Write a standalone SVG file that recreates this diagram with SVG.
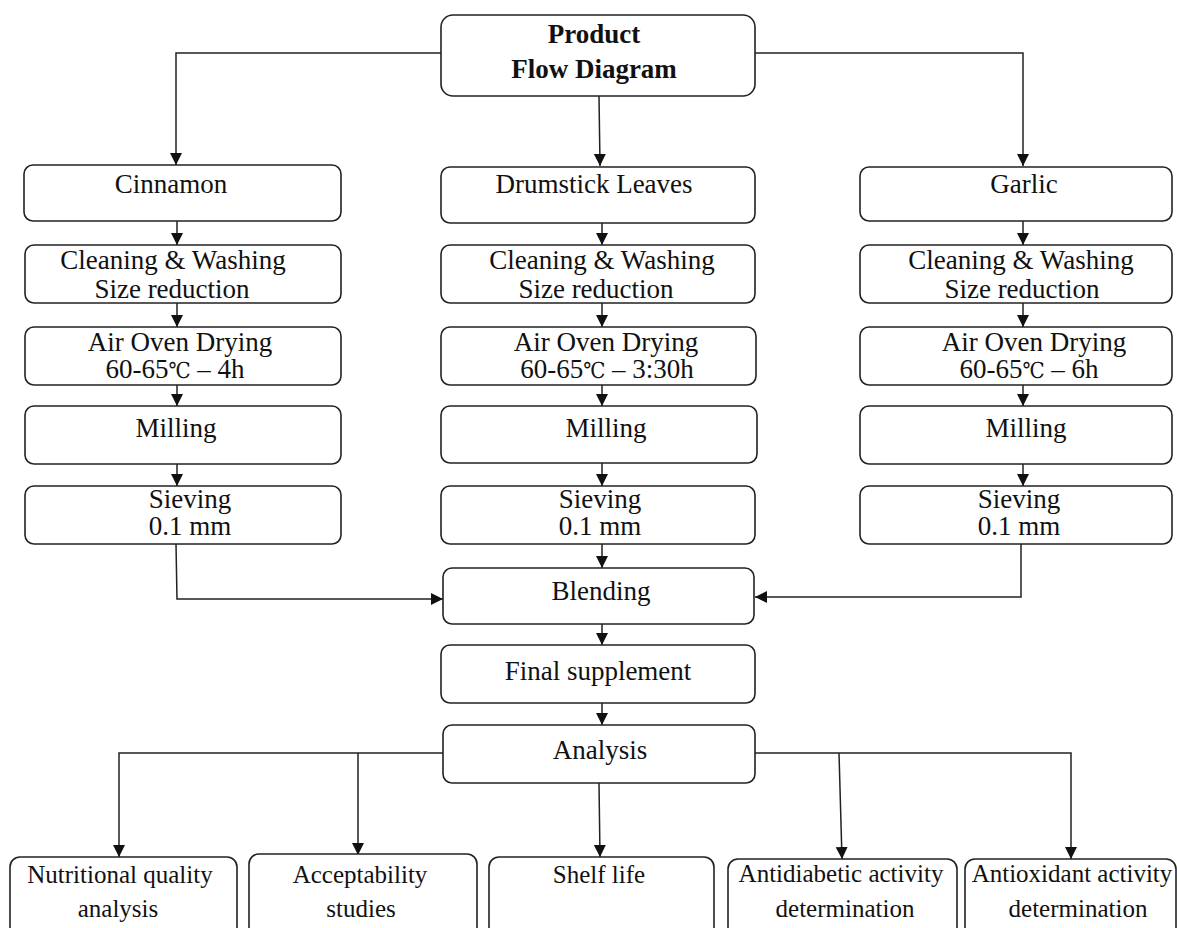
<svg xmlns="http://www.w3.org/2000/svg" width="1177" height="928" viewBox="0 0 1177 928">
<style>
.b{fill:#fff;stroke:#222;stroke-width:1.6}
.t{font-family:"Liberation Serif","Times New Roman","Noto Sans CJK SC",serif;font-size:27px;fill:#111;text-anchor:middle}
.s{font-size:25px}
.h{font-weight:bold}
.d{font-family:"DejaVu Serif Condensed","DejaVu Serif","DejaVu Sans",serif;font-size:22px}
.c{fill:none;stroke:#222;stroke-width:1.5}
</style>
<defs>
<marker id="ah" markerUnits="userSpaceOnUse" markerWidth="13" markerHeight="13" refX="12" refY="6" orient="auto">
<path d="M0,0 L12,6 L0,12 z" fill="#111"/>
</marker>
</defs>
<rect width="1177" height="928" fill="#fff"/>
<g id="connectors" class="c" marker-end="url(#ah)">
<path d="M441,53 H176 V165"/>
<path d="M599,96 L600,166"/>
<path d="M755,53 H1023 V166"/>
<path d="M177,221 V245"/><path d="M602,223 V245"/><path d="M1023,221 V245"/>
<path d="M177,303 V327"/><path d="M602,303 V327"/><path d="M1023,303 V327"/>
<path d="M177,385 V406"/><path d="M602,385 V406"/><path d="M1023,385 V406"/>
<path d="M177,464 V486"/><path d="M602,463 V486"/><path d="M1023,464 V486"/>
<path d="M602,544 V568"/>
<path d="M176,544 L177,599 H443"/>
<path d="M1021,544 V597 H755"/>
<path d="M602,624 V645"/>
<path d="M602,703 V725"/>
<path d="M443,753 H119 V857"/>
<path d="M358,753 V855"/>
<path d="M599,783 L600,857"/>
<path d="M755,753 H1071 V859"/>
<path d="M839,753 L842,859"/>
</g>
<g id="n-title"><rect class="b" x="441" y="15" width="314" height="81" rx="12"/><text class="t h" x="594" y="43">Product</text><text class="t h" x="594" y="78">Flow Diagram</text></g>
<g id="n-cinnamon"><rect class="b" x="24" y="165" width="317" height="56" rx="9"/><text class="t" x="171" y="193">Cinnamon</text></g>
<g id="n-drumstick"><rect class="b" x="441" y="167" width="314" height="56" rx="9"/><text class="t" x="594" y="193">Drumstick Leaves</text></g>
<g id="n-garlic"><rect class="b" x="860" y="167" width="312" height="54" rx="9"/><text class="t" x="1024" y="193">Garlic</text></g>
<g id="n-clean1"><rect class="b" x="25" y="245" width="316" height="58" rx="9"/><text class="t" x="173" y="269">Cleaning &amp; Washing</text><text class="t" x="172" y="298">Size reduction</text></g>
<g id="n-clean2"><rect class="b" x="441" y="245" width="314" height="58" rx="9"/><text class="t" x="602" y="269">Cleaning &amp; Washing</text><text class="t" x="596" y="298">Size reduction</text></g>
<g id="n-clean3"><rect class="b" x="860" y="245" width="312" height="58" rx="9"/><text class="t" x="1021" y="269">Cleaning &amp; Washing</text><text class="t" x="1022" y="298">Size reduction</text></g>
<g id="n-dry1"><rect class="b" x="25" y="327" width="316" height="58" rx="9"/><text class="t" x="180" y="351">Air Oven Drying</text><text class="t" x="175" y="378">60-65<tspan class="d">℃</tspan> – 4h</text></g>
<g id="n-dry2"><rect class="b" x="441" y="327" width="315" height="58" rx="9"/><text class="t" x="606" y="351">Air Oven Drying</text><text class="t" x="607" y="378">60-65<tspan class="d">℃</tspan> – 3:30h</text></g>
<g id="n-dry3"><rect class="b" x="860" y="327" width="312" height="58" rx="9"/><text class="t" x="1034" y="351">Air Oven Drying</text><text class="t" x="1029" y="378">60-65<tspan class="d">℃</tspan> – 6h</text></g>
<g id="n-mill1"><rect class="b" x="25" y="406" width="316" height="58" rx="9"/><text class="t" x="176" y="437">Milling</text></g>
<g id="n-mill2"><rect class="b" x="441" y="406" width="316" height="57" rx="9"/><text class="t" x="606" y="437">Milling</text></g>
<g id="n-mill3"><rect class="b" x="860" y="406" width="312" height="58" rx="9"/><text class="t" x="1026" y="437">Milling</text></g>
<g id="n-sieve1"><rect class="b" x="25" y="486" width="316" height="58" rx="9"/><text class="t" x="190" y="508">Sieving</text><text class="t" x="190" y="535">0.1 mm</text></g>
<g id="n-sieve2"><rect class="b" x="441" y="486" width="314" height="58" rx="9"/><text class="t" x="600" y="508">Sieving</text><text class="t" x="600" y="535">0.1 mm</text></g>
<g id="n-sieve3"><rect class="b" x="860" y="486" width="312" height="58" rx="9"/><text class="t" x="1019" y="508">Sieving</text><text class="t" x="1019" y="535">0.1 mm</text></g>
<g id="n-blend"><rect class="b" x="443" y="568" width="311" height="56" rx="9"/><text class="t" x="601" y="600">Blending</text></g>
<g id="n-final"><rect class="b" x="441" y="645" width="314" height="58" rx="9"/><text class="t" x="598" y="680">Final supplement</text></g>
<g id="n-analysis"><rect class="b" x="443" y="725" width="312" height="58" rx="9"/><text class="t" x="600" y="759">Analysis</text></g>
<g id="n-nutri"><rect class="b" x="10" y="857" width="227" height="90" rx="10"/><text class="t s" x="120" y="883">Nutritional quality</text><text class="t s" x="118" y="917">analysis</text></g>
<g id="n-accept"><rect class="b" x="249" y="854" width="228" height="93" rx="10"/><text class="t s" x="360" y="883">Acceptability</text><text class="t s" x="361" y="917">studies</text></g>
<g id="n-shelf"><rect class="b" x="489" y="857" width="225" height="90" rx="10"/><text class="t s" x="599" y="883">Shelf life</text></g>
<g id="n-antidiab"><rect class="b" x="728" y="859" width="229" height="88" rx="10"/><text class="t s" x="841" y="882">Antidiabetic activity</text><text class="t s" x="845" y="917">determination</text></g>
<g id="n-antiox"><rect class="b" x="965" y="859" width="211" height="88" rx="10"/><text class="t s" x="1072" y="882">Antioxidant activity</text><text class="t s" x="1078" y="917">determination</text></g>
</svg>
